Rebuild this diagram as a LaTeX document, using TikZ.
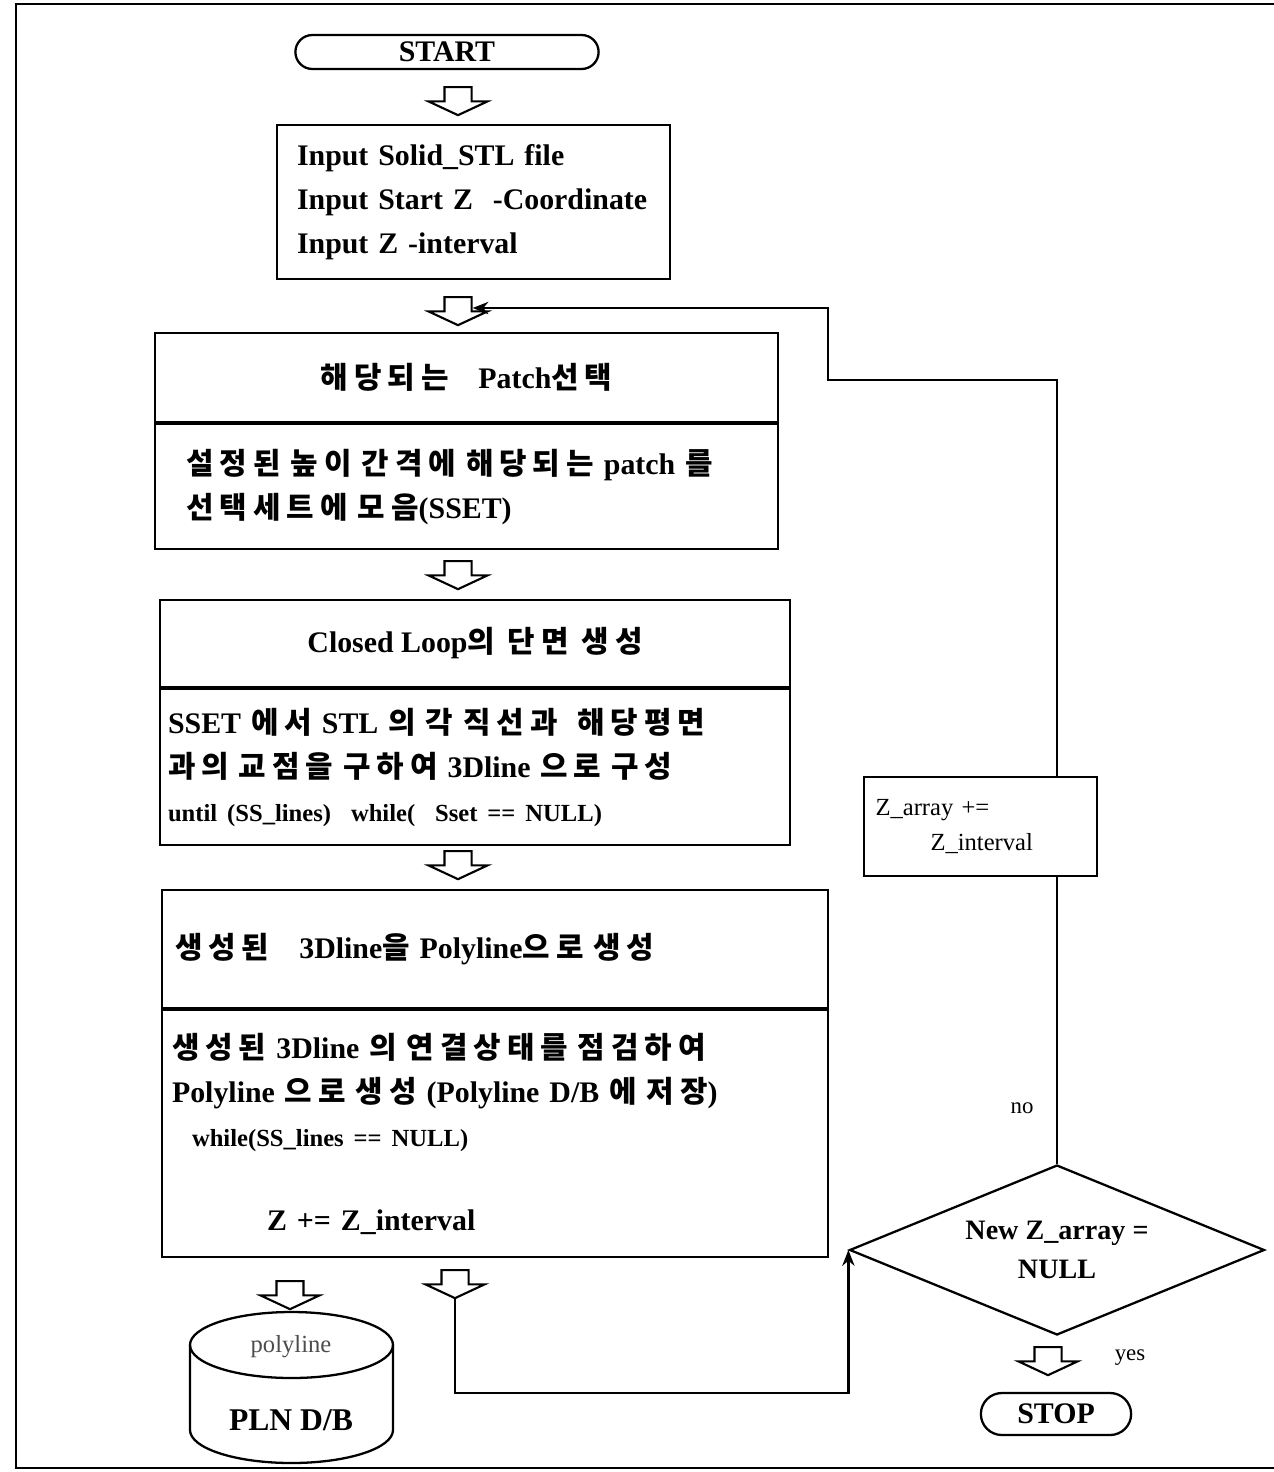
\documentclass[tikz,border=0pt]{standalone}
\usepackage{fontspec}
\setmainfont{Liberation Serif}
\newfontfamily\krfont[LetterSpace=20]{Noto Sans CJK KR}
\usetikzlibrary{arrows.meta,positioning,shapes.geometric,shapes.arrows,shapes.misc}
\newcommand{\ko}[1]{{\krfont #1}}

\begin{document}
\begin{tikzpicture}[x=0.02cm, y=-0.02cm,
  box/.style={draw, line width=1.3pt, font=\fontsize{17}{25}\selectfont\bfseries, inner sep=0pt},
  headbox/.style={box, font=\fontsize{17}{25}\selectfont\bfseries},
  textbox/.style={box, align=left, anchor=north},
  blk/.style={draw, line width=1.2pt, single arrow, shape border rotate=270, minimum height=0.56cm, text width=0.5cm,
              single arrow head extend=0.32cm, single arrow tip angle=130, inner sep=0pt},
  term/.style={draw, line width=1.3pt, rounded rectangle, font=\fontsize{17}{20}\selectfont\bfseries},
  lbl/.style={font=\fontsize{13}{15}\selectfont},
  line/.style={line width=1.3pt},
  arr/.style={line width=1.3pt, -{Stealth[length=9pt,width=7pt]}}
]
  \useasboundingbox (0,0) rectangle (1274,1472);
  \draw[line] (1274,4) -| (16,1468) -- (1274,1468);

  % main column
  \node[term, minimum width=6.3cm, minimum height=0.68cm] (start) at (447,52) {START};
  \node[blk] (a1) at (458,98) {};
  \node[box, minimum width=7.86cm, minimum height=3.08cm, text width=7.06cm, align=left] (input) at (473.5,202)
    {Input Solid\_STL file\\Input Start Z\ \ -Coordinate\\Input Z -interval};
  \node[blk] (a2) at (458,308) {};

  \node[headbox, minimum width=12.46cm, minimum height=1.78cm] (patchT) at (466.5,377.5) {\ko{해당되는}\quad Patch\ko{선택}};
  \node[textbox, below=0pt of patchT, minimum height=2.5cm, text width=11.2cm, inner xsep=0.63cm] (patchB)
    {\ko{설정된 높이 간격에 해당되는} patch \ko{를}\\\ko{선택세트에 모음}(SSET)};
  \node[blk] (a3) at (458,572) {};

  \node[headbox, minimum width=12.6cm, minimum height=1.74cm] (loopT) at (475,643.5) {Closed Loop\ko{의 단면 생성}};
  \node[textbox, below=0pt of loopT, minimum height=3.12cm, text width=12.28cm, inner xsep=0.16cm] (loopB)
    {SSET \ko{에서} STL \ko{의 각 직선과\ \ 해당평면}\\\ko{과의 교점을 구하여} 3Dline \ko{으로 구성}\\
     {\fontsize{14}{20}\selectfont until (SS\_lines)\ \ while(\ \ Sset == NULL)}};
  \node[blk] (a4) at (458,862) {};

  \node[headbox, minimum width=13.32cm, minimum height=2.36cm, text width=12.8cm, inner xsep=0.26cm, align=left] (polyT) at (495,949)
    {\ko{생성된}\quad 3Dline\ko{을} Polyline\ko{으로 생성}};
  \node[textbox, below=0pt of polyT, minimum height=4.94cm, text width=12.92cm, inner xsep=0.2cm] (polyB)
    {\ko{생성된} 3Dline \ko{의 연결상태를 점검하여}\\Polyline \ko{으로 생성} (Polyline D/B \ko{에 저장})\\
     \hspace*{0.4cm}{\fontsize{14}{20}\selectfont while(SS\_lines == NULL)}\\[0.8cm]
     \hspace*{1.9cm}Z += Z\_interval};

  % output data base
  \node[blk] (a5) at (290,1292) {};
  \coordinate (plndb) at (291.5,1390);
  \draw[line] (plndb) ++(0,-45) ellipse [x radius=101.5, y radius=33];
  \draw[line] (190,1345) -- (190,1430) arc[start angle=180, end angle=0, x radius=101.5, y radius=33] -- (393,1345);
  \node[font=\fontsize{14}{16}\selectfont, text=black!70] (plntop) at (291,1347) {polyline};
  \node[font=\fontsize{18}{20}\selectfont\bfseries] (plnname) at (291,1420) {PLN D/B};

  % test
  \node[blk] (a6) at (455,1281) {};
  \node[draw, line, diamond, aspect=2.44, minimum width=8.3cm, minimum height=3.4cm, inner sep=0pt, align=center,
        font=\fontsize{16}{22}\selectfont\bfseries] (check) at (1057,1250) {New Z\_array =\\NULL};
  \node[blk] (a7) at (1048,1358) {};
  \node[lbl] (yes) at (1130,1358) {yes};
  \node[term, minimum width=3.24cm, minimum height=0.84cm] (stop) at (1056,1414) {STOP};

  \node[box, minimum width=4.66cm, minimum height=1.98cm, text width=4.2cm, align=left,
        font=\fontsize{14}{20}\selectfont] (zstep) at (980.5,826.5) {Z\_array += \\\hspace*{1.1cm}Z\_interval};
  \node[lbl] (no) at (1022,1108) {no};

  \coordinate (bend) at (828,380);
  \draw[arr] (a6.tip) -- ++(0,94) -| (check.west);
  \draw[line] (check.north) -- (check.north |- zstep.south);
  \draw[arr] (check.north |- zstep.north) |- (bend) |- (a2.east);
\end{tikzpicture}
\end{document}
